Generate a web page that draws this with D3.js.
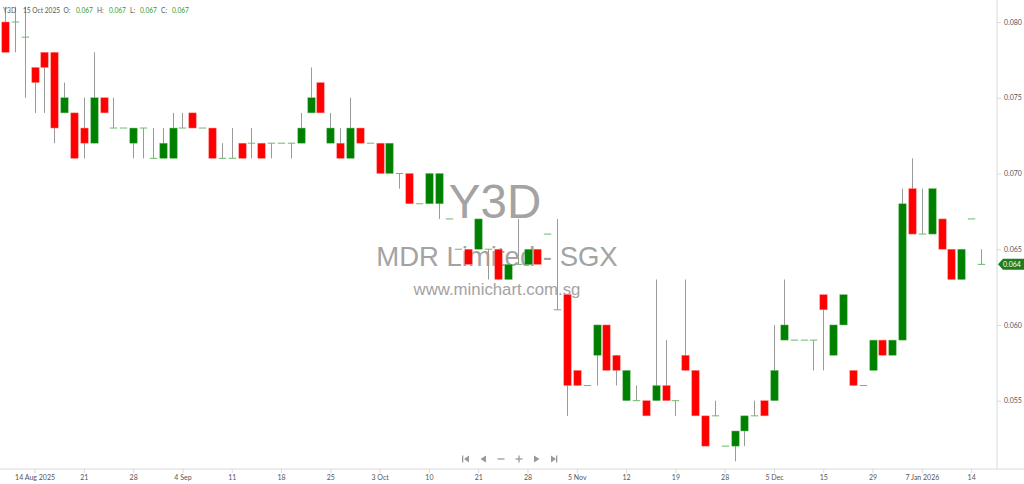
<!DOCTYPE html>
<html>
<head>
<meta charset="utf-8">
<title>Y3D - MDR Limited</title>
<script src="https://d3js.org/d3.v7.min.js"></script>
<style>
  html, body { margin: 0; padding: 0; background: #fff; }
  svg { display: block; }
  .axis text { font-family: Lato, "Open Sans", sans-serif; font-size: 7px; fill: #555; }
  .axis .domain, .axis line { stroke: #d9d9d9; }
</style>
</head>
<body>
<svg id="chart" width="1024" height="484"></svg>
<script>
// daily candles, oldest first (prices in SGD)
const opens  = [0.080,0.080,0.079,0.077,0.078,0.078,0.074,0.074,0.073,0.072,
                0.075,0.073,0.073,0.072,0.073,0.071,0.071,0.071,0.073,0.074,
                0.073,0.073,0.071,0.071,0.072,0.072,0.072,0.072,0.072,0.072,
                0.072,0.074,0.076,0.072,0.072,0.071,0.073,0.072,0.072,0.070,
                0.070,0.070,0.068,0.068,0.068,0.067,0.065,0.065,0.065,0.065,
                0.065,0.063,0.064,0.064,0.065,0.066,0.061,0.062,0.057,0.056,
                0.058,0.060,0.058,0.055,0.055,0.055,0.055,0.056,0.055,0.058,
                0.057,0.054,0.054,0.052,0.052,0.053,0.054,0.055,0.055,0.059,
                0.059,0.059,0.059,0.062,0.058,0.060,0.057,0.056,0.057,0.059,
                0.058,0.059,0.069,0.066,0.066,0.067,0.065,0.063,0.067,0.064];
const highs  = [0.081,0.081,0.081,0.077,0.078,0.078,0.076,0.074,0.075,0.078,
                0.075,0.075,0.073,0.073,0.073,0.073,0.073,0.074,0.074,0.074,
                0.073,0.073,0.072,0.073,0.072,0.073,0.072,0.072,0.072,0.072,
                0.074,0.077,0.076,0.074,0.073,0.075,0.073,0.072,0.072,0.072,
                0.070,0.070,0.068,0.070,0.070,0.067,0.065,0.065,0.067,0.065,
                0.065,0.064,0.067,0.065,0.065,0.066,0.067,0.062,0.057,0.056,
                0.060,0.060,0.058,0.057,0.056,0.055,0.063,0.059,0.055,0.063,
                0.057,0.054,0.055,0.052,0.053,0.054,0.055,0.055,0.060,0.063,
                0.059,0.059,0.059,0.062,0.060,0.062,0.057,0.056,0.059,0.059,
                0.059,0.069,0.071,0.069,0.069,0.067,0.065,0.065,0.067,0.065];
const lows   = [0.078,0.078,0.075,0.074,0.074,0.072,0.074,0.071,0.071,0.072,
                0.074,0.073,0.073,0.071,0.071,0.071,0.071,0.071,0.073,0.073,
                0.073,0.071,0.071,0.071,0.071,0.071,0.071,0.071,0.072,0.071,
                0.072,0.074,0.074,0.072,0.071,0.071,0.072,0.072,0.070,0.070,
                0.069,0.068,0.068,0.068,0.067,0.067,0.065,0.064,0.065,0.063,
                0.063,0.063,0.064,0.064,0.064,0.066,0.061,0.054,0.056,0.056,
                0.056,0.057,0.056,0.055,0.055,0.054,0.055,0.055,0.054,0.057,
                0.054,0.052,0.054,0.052,0.051,0.052,0.054,0.054,0.055,0.059,
                0.059,0.059,0.057,0.057,0.058,0.060,0.056,0.056,0.057,0.058,
                0.058,0.059,0.066,0.066,0.066,0.065,0.063,0.063,0.067,0.064];
const closes = [0.078,0.080,0.079,0.076,0.077,0.073,0.075,0.071,0.072,0.075,
                0.074,0.073,0.073,0.073,0.073,0.071,0.072,0.073,0.073,0.073,
                0.073,0.071,0.071,0.071,0.071,0.072,0.071,0.072,0.072,0.072,
                0.073,0.075,0.074,0.073,0.071,0.073,0.072,0.072,0.070,0.072,
                0.070,0.068,0.068,0.070,0.070,0.067,0.065,0.064,0.067,0.065,
                0.063,0.064,0.064,0.065,0.064,0.066,0.061,0.056,0.056,0.056,
                0.060,0.057,0.057,0.057,0.055,0.054,0.056,0.055,0.055,0.057,
                0.054,0.052,0.054,0.052,0.053,0.054,0.054,0.054,0.057,0.060,
                0.059,0.059,0.059,0.061,0.060,0.062,0.056,0.056,0.059,0.058,
                0.059,0.068,0.066,0.066,0.069,0.065,0.063,0.065,0.067,0.064];

// x-axis labels and the candle they sit under
const tickLabels = ["14 Aug 2025","21","28","4 Sep","11","18","25","3 Oct","10","21",
                    "28","5 Nov","12","19","28","5 Dec","15","29","7 Jan 2026","14"];
const tickIndex  = [3,8,13,18,23,28,33,38,43,48,53,58,63,68,73,78,83,88,93,98];

const priceTicks = [0.055,0.060,0.065,0.070,0.075,0.080];

const svg = d3.select("svg#chart");
const width = +svg.attr("width");
const height = +svg.attr("height");
const plotRight = 997;
const plotBottom = 469;

const candles = opens.map((o, i) => ({ i: i, o: o, h: highs[i], l: lows[i], c: closes[i] }));

const xScale = d3.scaleLinear()
                 .domain([0, candles.length - 1])
                 .range([5, 981]);
const yScale = d3.scaleLinear()
                 .domain([0.055, 0.080])
                 .range([400.7, 22]);

// watermark
const mark = svg.append("g")
                .attr("id", "watermark")
                .attr("text-anchor", "middle")
                .attr("font-family", "'Liberation Sans', Arial, sans-serif")
                .attr("fill", "#a3a3a3");
mark.append("text").attr("x", 495).attr("y", 218).attr("font-size", 47.5).text("Y3D");
mark.append("text").attr("x", 497).attr("y", 266).attr("font-size", 27.5).text("MDR Limited - SGX");
mark.append("text").attr("x", 497).attr("y", 295).attr("font-size", 16.8).text("www.minichart.com.sg");

// axes
let rightAxis = d3.axisRight(yScale)
                  .tickValues(priceTicks)
                  .tickFormat(d3.format(".3f"))
                  .tickSize(4)
                  .tickPadding(3);
svg.append("g")
   .attr("class", "axis")
   .attr("transform", `translate(${plotRight},0)`)
   .call(rightAxis)
   .call(g => g.select(".domain").attr("d", `M0,0V${plotBottom}`));

let bottomAxis = d3.axisBottom(xScale)
                   .tickValues(tickIndex)
                   .tickFormat((d, k) => tickLabels[k])
                   .tickSize(4)
                   .tickPadding(2);
svg.append("g")
   .attr("class", "axis")
   .attr("transform", `translate(0,${plotBottom})`)
   .call(bottomAxis)
   .call(g => g.select(".domain").attr("d", `M0,0H${width}`));

// candles
const bodyW = 7.4;
const chartArea = svg.append("g").attr("id", "candles");
const groups = chartArea.selectAll("g")
                        .data(candles)
                        .join("g");

groups.filter(d => d.h > d.l)
      .append("line")
      .attr("x1", d => Math.round(xScale(d.i)) + 0.5)
      .attr("x2", d => Math.round(xScale(d.i)) + 0.5)
      .attr("y1", d => yScale(d.h))
      .attr("y2", d => yScale(d.l))
      .attr("stroke", "#9a9a9a")
      .attr("stroke-width", 1);

groups.filter(d => d.o !== d.c)
      .append("rect")
      .attr("x", d => Math.round(xScale(d.i)) + 0.5 - bodyW / 2)
      .attr("width", bodyW)
      .attr("y", d => yScale(Math.max(d.o, d.c)))
      .attr("height", d => yScale(Math.min(d.o, d.c)) - yScale(Math.max(d.o, d.c)))
      .attr("fill", d => d.c > d.o ? "#008000" : "#ff0000")
      .attr("stroke", d => d.c > d.o ? "#6fbf6f" : "#ff8080")
      .attr("stroke-width", 0.5);

groups.filter(d => d.o === d.c)
      .append("line")
      .attr("x1", d => Math.round(xScale(d.i)) + 0.5 - bodyW / 2)
      .attr("x2", d => Math.round(xScale(d.i)) + 0.5 + bodyW / 2)
      .attr("y1", d => yScale(d.c))
      .attr("y2", d => yScale(d.c))
      .attr("stroke", "#6cb96c")
      .attr("stroke-width", 1);

// last price tag
const last = candles[candles.length - 1];
const ty = yScale(last.c);
svg.append("path")
   .attr("d", `M${plotRight + 1},${ty} L${plotRight + 6},${ty - 5.5} H${width} V${ty + 5.5} H${plotRight + 6} Z`)
   .attr("fill", "#1e7d1e");
svg.append("text")
   .attr("x", plotRight + 6)
   .attr("y", ty + 2.6)
   .attr("font-family", "Lato, 'Open Sans', sans-serif")
   .attr("font-size", 7)
   .attr("fill", "#fff")
   .text(d3.format(".3f")(last.c));

// header line
const hd = candles[45];
const header = svg.append("g")
                  .attr("font-family", "Lato, 'Open Sans', sans-serif")
                  .attr("font-size", 6.6);
const headerParts = [
  { x: 3,   t: "Y3D",         c: "#555" },
  { x: 23,  t: "15 Oct 2025", c: "#555" },
  { x: 63.5,t: "O:",          c: "#555" },
  { x: 76,  t: d3.format(".3f")(hd.o), c: "#2ca02c" },
  { x: 97,  t: "H:",          c: "#555" },
  { x: 109, t: d3.format(".3f")(hd.h), c: "#2ca02c" },
  { x: 130, t: "L:",          c: "#555" },
  { x: 140, t: d3.format(".3f")(hd.l), c: "#2ca02c" },
  { x: 161, t: "C:",          c: "#555" },
  { x: 172, t: d3.format(".3f")(hd.c), c: "#2ca02c" }
];
header.selectAll("text")
      .data(headerParts)
      .join("text")
      .attr("x", d => d.x)
      .attr("y", 13)
      .attr("fill", d => d.c)
      .text(d => d.t);

// navigation buttons
const nav = svg.append("g").attr("fill", "#999").attr("stroke", "#999");
const ny = 459;
nav.append("rect").attr("x", 462).attr("y", ny - 3.5).attr("width", 1.3).attr("height", 7).attr("stroke", "none");
nav.append("path").attr("d", `M464,${ny} L469,${ny - 3.5} V${ny + 3.5} Z`).attr("stroke", "none");
nav.append("path").attr("d", `M480.5,${ny} L486,${ny - 3.5} V${ny + 3.5} Z`).attr("stroke", "none");
nav.append("line").attr("x1", 497.5).attr("x2", 504.5).attr("y1", ny).attr("y2", ny).attr("stroke-width", 1.3);
nav.append("line").attr("x1", 515.5).attr("x2", 522.5).attr("y1", ny).attr("y2", ny).attr("stroke-width", 1.3);
nav.append("line").attr("x1", 519).attr("x2", 519).attr("y1", ny - 3.5).attr("y2", ny + 3.5).attr("stroke-width", 1.3);
nav.append("path").attr("d", `M539.5,${ny} L534,${ny - 3.5} V${ny + 3.5} Z`).attr("stroke", "none");
nav.append("path").attr("d", `M556,${ny} L551,${ny - 3.5} V${ny + 3.5} Z`).attr("stroke", "none");
nav.append("rect").attr("x", 556).attr("y", ny - 3.5).attr("width", 1.3).attr("height", 7).attr("stroke", "none");
</script>
</body>
</html>
